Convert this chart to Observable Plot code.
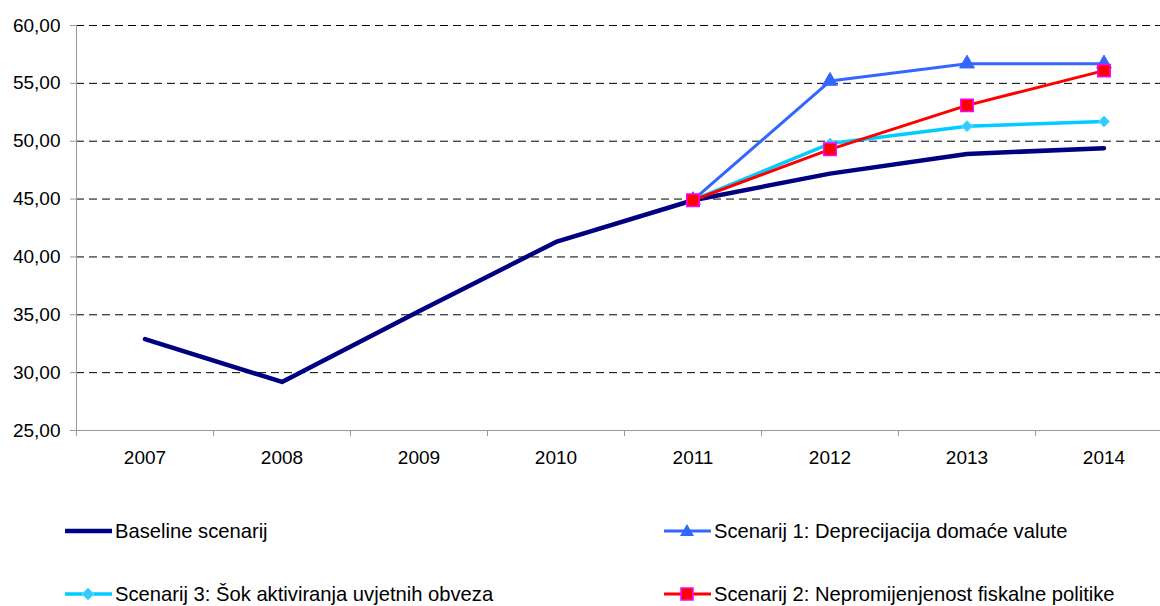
<!DOCTYPE html>
<html>
<head>
<meta charset="utf-8">
<script src="https://cdn.jsdelivr.net/npm/d3@7"></script>
<script src="https://cdn.jsdelivr.net/npm/@observablehq/plot@0.6"></script>
<style>
  html, body { margin: 0; padding: 0; background: #fff; }
  #wrap { position: relative; width: 1160px; height: 606px; overflow: hidden; font-family: "Liberation Sans", Arial, sans-serif; }
  .leg { position: absolute; display: flex; align-items: center; font-size: 20.2px; color: #000; line-height: 22px; white-space: nowrap; }
  .leg svg { display: block; margin-right: 3px; }
</style>
</head>
<body>
<div id="wrap"></div>
<script>
const years = ["2007", "2008", "2009", "2010", "2011", "2012", "2013", "2014"];
const baseline = [32.9, 29.2, 35.3, 41.3, 44.9, 47.2, 48.9, 49.4];
const scen1 = [null, null, null, null, 44.9, 55.2, 56.7, 56.7];
const scen2 = [null, null, null, null, 44.9, 49.3, 53.1, 56.1];
const scen3 = [null, null, null, null, 44.9, 49.8, 51.3, 51.7];
const yTicks = [25, 30, 35, 40, 45, 50, 55, 60];
const seriesNames = [
  "Baseline scenarij",
  "Scenarij 1: Deprecijacija domaće valute",
  "Scenarij 2: Nepromijenjenost fiskalne politike",
  "Scenarij 3: Šok aktiviranja uvjetnih obveza"
];

const rows = vals => years.map((yr, i) => ({i: i + 0.5, year: yr, v: vals[i]})).filter(d => d.v != null);
const fmt = d => d3.format(".2f")(d).replace(".", ",");

const chart = Plot.plot({
  width: 1160,
  height: 480,
  marginLeft: 76,
  marginRight: 0,
  marginTop: 25,
  marginBottom: 50,
  style: {fontFamily: "'Liberation Sans', Arial, sans-serif", color: "#000", background: "#fff"},
  x: {type: "linear", domain: [0, 8], range: [76, 1172]},
  y: {domain: [25, 60]},
  marks: [
    Plot.ruleY(yTicks.filter(t => t > 25), {stroke: "#000", strokeWidth: 1, strokeDasharray: "8,5"}),
    Plot.ruleY([25], {stroke: "#999"}),
    Plot.ruleX([0], {y1: 25, y2: 60, stroke: "#999"}),
    Plot.axisY({ticks: yTicks, tickSize: 6, tickPadding: 10, tickFormat: fmt, stroke: "#999", fill: "#000", fontSize: 19, label: null}),
    Plot.axisX({ticks: d3.range(0, 9), tickSize: 6, tickFormat: () => "", stroke: "#999", label: null}),
    Plot.axisX({ticks: years.map((_, i) => i + 0.5), tickSize: 0, tickPadding: 20, tickFormat: d => years[Math.round(d - 0.5)], fill: "#000", fontSize: 19, label: null}),
    Plot.line(rows(baseline), {x: "i", y: "v", stroke: "#000080", strokeWidth: 4.5}),
    Plot.line(rows(scen1), {x: "i", y: "v", stroke: "#3366FF", strokeWidth: 3}),
    Plot.dot(rows(scen1), {x: "i", y: "v", symbol: "triangle", r: 5.5, fill: "#3366FF", stroke: "#3366FF", strokeWidth: 1}),
    Plot.line(rows(scen3), {x: "i", y: "v", stroke: "#00CCFF", strokeWidth: 3.5}),
    Plot.dot(rows(scen3), {x: "i", y: "v", symbol: "diamond2", r: 5, fill: "#33CCFF", stroke: "#66DDFF", strokeWidth: 1}),
    Plot.line(rows(scen2), {x: "i", y: "v", stroke: "#FF0000", strokeWidth: 3}),
    Plot.dot(rows(scen2), {x: "i", y: "v", symbol: "square", r: 7, fill: "#FF0000", stroke: "#FF00FF", strokeWidth: 1.5})
  ]
});

const wrap = document.getElementById("wrap");
chart.style.position = "absolute";
chart.style.left = "0px";
chart.style.top = "0px";
wrap.appendChild(chart);

function swatch(color, width, marker) {
  let m = "";
  if (marker === "triangle") m = `<path d="M23,3 L30,15 L16,15 Z" fill="${color}"/>`;
  if (marker === "diamond") m = `<path d="M23,4 L29,10 L23,16 L17,10 Z" fill="#33CCFF" stroke="#66DDFF"/>`;
  if (marker === "square") m = `<rect x="17" y="4" width="12" height="12" fill="#FF0000" stroke="#FF00FF" stroke-width="1.5"/>`;
  return `<svg width="47" height="20" viewBox="0 0 47 20"><line x1="0" y1="10" x2="47" y2="10" stroke="${color}" stroke-width="${width}"/>${m}</svg>`;
}

const legendItems = [
  {name: seriesNames[0], color: "#000080", w: 4.5, marker: null, left: 65, top: 520},
  {name: seriesNames[1], color: "#3366FF", w: 3, marker: "triangle", left: 664, top: 520},
  {name: seriesNames[3], color: "#00CCFF", w: 3.5, marker: "diamond", left: 65, top: 583},
  {name: seriesNames[2], color: "#FF0000", w: 3, marker: "square", left: 664, top: 583}
];
for (const it of legendItems) {
  const d = document.createElement("div");
  d.className = "leg";
  d.style.left = it.left + "px";
  d.style.top = it.top + "px";
  d.innerHTML = swatch(it.color, it.w, it.marker) + `<span>${it.name}</span>`;
  wrap.appendChild(d);
}
</script>
</body>
</html>
